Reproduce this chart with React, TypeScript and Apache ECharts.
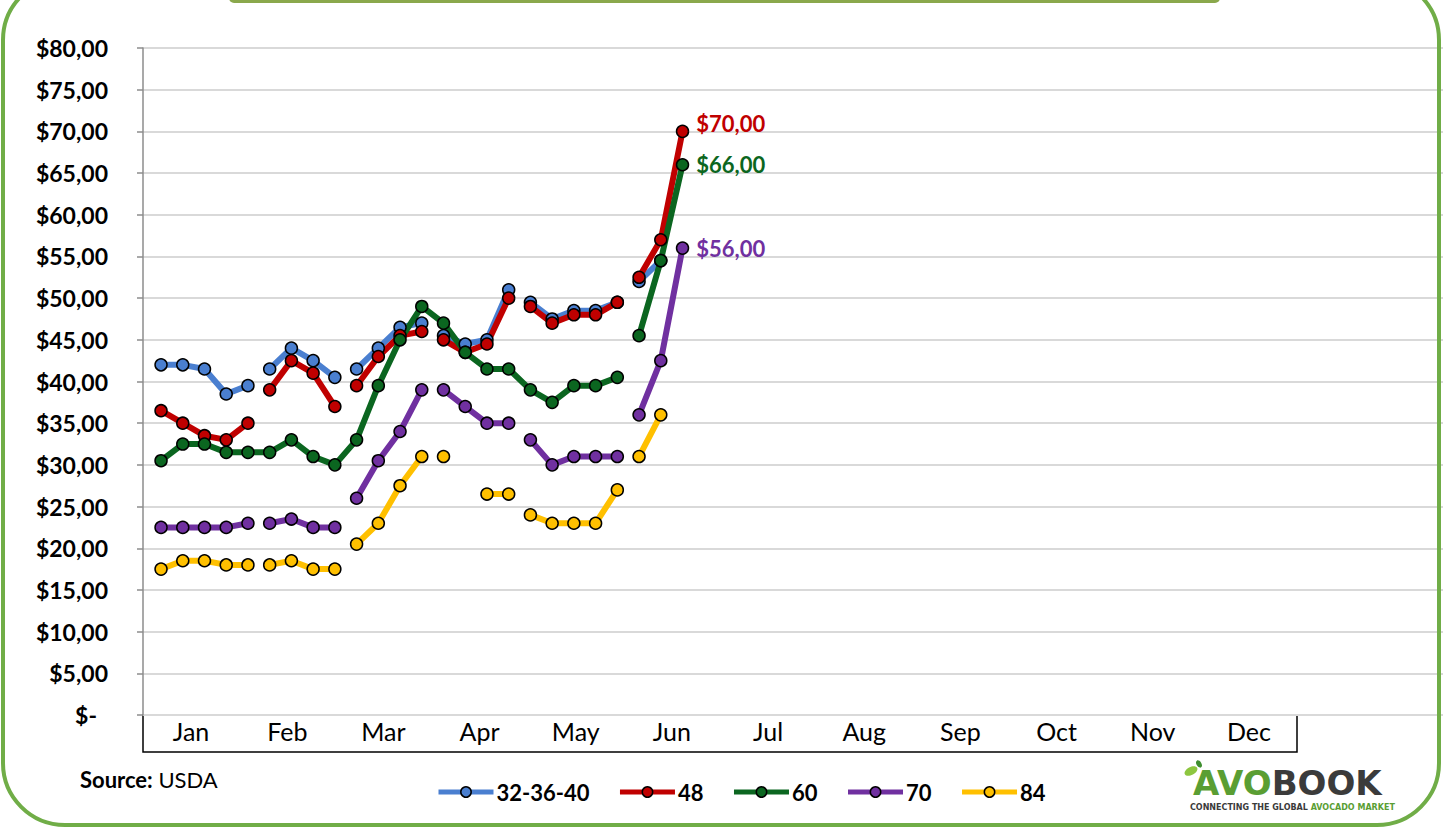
import React, { useEffect, useRef } from 'react';
import * as echarts from 'echarts';

// ---------- data ----------
const months = ['Jan', 'Feb', 'Mar', 'Apr', 'May', 'Jun', 'Jul', 'Aug', 'Sep', 'Oct', 'Nov', 'Dec'];
// weekly reports per month (Jan..Jun)
const weeksPerMonth = [5, 4, 4, 4, 5, 3];
const weekNumbers = [1, 2, 3, 4, 5, 6, 7, 8, 9, 10, 11, 12, 13, 14, 15, 16, 17, 18, 19, 20, 21, 22, 23, 24, 25];

const seriesNames = ['32-36-40', '48', '60', '70', '84'];

const price32 = [42, 42, 41.5, 38.5, 39.5, 41.5, 44, 42.5, 40.5, 41.5, 44, 46.5, 47, 45.5, 44.5, 45, 51, 49.5, 47.5, 48.5, 48.5, 49.5, 52, 54.5, null];
const price48 = [36.5, 35, 33.5, 33, 35, 39, 42.5, 41, 37, 39.5, 43, 45.5, 46, 45, 43.5, 44.5, 50, 49, 47, 48, 48, 49.5, 52.5, 57, 70];
const price60 = [30.5, 32.5, 32.5, 31.5, 31.5, 31.5, 33, 31, 30, 33, 39.5, 45, 49, 47, 43.5, 41.5, 41.5, 39, 37.5, 39.5, 39.5, 40.5, 45.5, 54.5, 66];
const price70 = [22.5, 22.5, 22.5, 22.5, 23, 23, 23.5, 22.5, 22.5, 26, 30.5, 34, 39, 39, 37, 35, 35, 33, 30, 31, 31, 31, 36, 42.5, 56];
const price84 = [17.5, 18.5, 18.5, 18, 18, 18, 18.5, 17.5, 17.5, 20.5, 23, 27.5, 31, 31, null, 26.5, 26.5, 24, 23, 23, 23, 27, 31, 36, null];

// months after which each line is interrupted
const breaks32 = ['Jan', 'Feb', 'Mar', 'Apr', 'May'];
const breaks48 = ['Jan', 'Feb', 'Mar', 'Apr', 'May'];
const breaks60 = ['May'];
const breaks70 = ['Jan', 'Feb', 'Mar', 'Apr', 'May'];
const breaks84 = ['Jan', 'Feb', 'Mar', 'Apr', 'May'];

const labelledSeries = ['48', '60', '70'];

// ---------- styling ----------
const colors = ['#4A7FD0', '#C00000', '#0B6620', '#7030A0', '#FFC000'];
const FONT = 'Lato, "Noto Sans", sans-serif';

const fmtMoney = (v: number) => '$' + v.toFixed(2).replace('.', ',');

function buildData(values: (number | null)[], breaks: string[], name: string, color: string) {
  const out: any[] = [];
  let k = 0;
  let lastIdx = -1;
  weeksPerMonth.forEach((n, m) => {
    for (let i = 0; i < n; i++) {
      const v = values[k];
      out.push([weekNumbers[k], v == null ? '-' : v]);
      if (v != null) lastIdx = out.length - 1;
      k++;
    }
    if (breaks.includes(months[m])) out.push([weekNumbers[k - 1] + 0.5, '-']);
  });
  if (labelledSeries.includes(name) && lastIdx >= 0) {
    const item = out[lastIdx];
    out[lastIdx] = {
      value: item,
      label: {
        show: true,
        position: 'right',
        distance: 7,
        formatter: (p: any) => fmtMoney(p.value[1]),
        color,
        fontFamily: FONT,
        fontWeight: 'bold',
        fontSize: 22,
        offset: name === '48' ? [0, -8] : [0, 0],
      },
    };
  }
  return out;
}

export default function App() {
  const ref = useRef<HTMLDivElement>(null);

  useEffect(() => {
    if (!ref.current) return;
    const chart = echarts.init(ref.current, null, { renderer: 'svg' });

    const allValues = [price32, price48, price60, price70, price84];
    const allBreaks = [breaks32, breaks48, breaks60, breaks70, breaks84];

    const series = seriesNames.map((name, i) => ({
      name,
      type: 'line',
      xAxisIndex: 0,
      yAxisIndex: 0,
      data: buildData(allValues[i], allBreaks[i], name, colors[i]),
      connectNulls: false,
      symbol: 'circle',
      symbolSize: 12,
      showAllSymbol: true,
      lineStyle: { color: colors[i], width: 6 },
      itemStyle: { color: colors[i], borderColor: '#000', borderWidth: 1.5 },
      emphasis: { disabled: true },
    }));

    chart.setOption({
      animation: false,
      backgroundColor: '#fff',
      grid: [
        { left: 143, right: 0, top: 48, bottom: 113 },
        {
          left: 143, top: 715, width: 1154, height: 37,
          show: true, borderColor: '#000', borderWidth: 1.5, backgroundColor: 'transparent',
        },
      ],
      xAxis: [
        { gridIndex: 0, type: 'value', min: 0.17, max: 60, show: false },
        {
          gridIndex: 1, type: 'category', data: months, position: 'top', boundaryGap: true,
          axisLine: { show: false }, axisTick: { show: false }, splitLine: { show: false },
          axisLabel: { inside: true, margin: 3, fontSize: 25, color: '#000', fontFamily: FONT },
        },
      ],
      yAxis: [
        {
          gridIndex: 0, type: 'value', min: 0, max: 80, interval: 5,
          axisLine: { show: true, lineStyle: { color: '#8c8c8c', width: 1.5 } },
          axisTick: { show: true, length: 6, lineStyle: { color: '#8c8c8c', width: 1.5 } },
          splitLine: { show: true, lineStyle: { color: '#d9d9d9', width: 2 } },
          axisLabel: {
            margin: 35, fontSize: 23, fontWeight: 'bold', color: '#000', fontFamily: FONT,
            formatter: (v: number) => (v === 0 ? '{z|$-}' : fmtMoney(v)),
            rich: { z: { fontSize: 23, fontWeight: 'bold', fontFamily: FONT, color: '#000', padding: [0, 11, 0, 0] } },
          },
        },
        { gridIndex: 1, type: 'value', show: false },
      ],
      legend: {
        data: seriesNames,
        left: 431,
        top: 776,
        itemWidth: 55,
        itemHeight: 13,
        itemGap: 28,
        lineStyle: { width: 5 },
        itemStyle: { borderColor: '#000', borderWidth: 1.5 },
        textStyle: { fontSize: 22, fontWeight: 'bold', color: '#000', fontFamily: FONT, padding: [0, 0, 0, -2] },
        selectedMode: false,
      },
      series,
      graphic: [
        {
          type: 'rect', z: 100,
          shape: { x: 3, y: -22, width: 1436, height: 847, r: 62 },
          style: { fill: 'none', stroke: '#70AD47', lineWidth: 4 },
          silent: true,
        },
        {
          type: 'rect', z: 101,
          shape: { x: 229, y: -8, width: 991, height: 11, r: 5 },
          style: { fill: '#8AA84C' },
          silent: true,
        },
        {
          type: 'text', left: 80, top: 768, z: 100,
          style: {
            text: '{b|Source:} USDA',
            fontSize: 22, fontFamily: FONT, fill: '#000',
            rich: { b: { fontSize: 22, fontFamily: FONT, fontWeight: 'bold', fill: '#000' } },
          },
        },
        {
          type: 'group', x: 1183, y: 759, z: 100,
          children: [
            { type: 'ellipse', x: 8, y: 12, rotation: 0.5, shape: { cx: 0, cy: 0, rx: 7, ry: 4 }, style: { fill: '#8DC63F' } },
            { type: 'ellipse', x: 16, y: 5, rotation: -1.0, shape: { cx: 0, cy: 0, rx: 4, ry: 2.5 }, style: { fill: '#3E8E2F' } },
            {
              type: 'text', x: 10, y: 7,
              style: {
                text: '{g|AVO}{d|BOOK}',
                rich: {
                  g: { fontSize: 34, fontWeight: 'bold', fontFamily: '"DejaVu Sans", sans-serif', fill: '#5A9E33' },
                  d: { fontSize: 34, fontWeight: 'bold', fontFamily: '"DejaVu Sans", sans-serif', fill: '#3B3B3B' },
                },
              },
            },
            {
              type: 'text', x: 7, y: 44,
              style: {
                text: '{d|CONNECTING THE GLOBAL }{g|AVOCADO MARKET}',
                rich: {
                  g: { fontSize: 8, fontWeight: 'bold', fontFamily: '"DejaVu Sans", sans-serif', fill: '#5A9E33' },
                  d: { fontSize: 8, fontWeight: 'bold', fontFamily: '"DejaVu Sans", sans-serif', fill: '#3B3B3B' },
                },
              },
            },
          ],
        },
      ],
    });

    return () => chart.dispose();
  }, []);

  return <div ref={ref} style={{ position: 'fixed', left: 0, top: 0, width: 1443, height: 828 }} />;
}
